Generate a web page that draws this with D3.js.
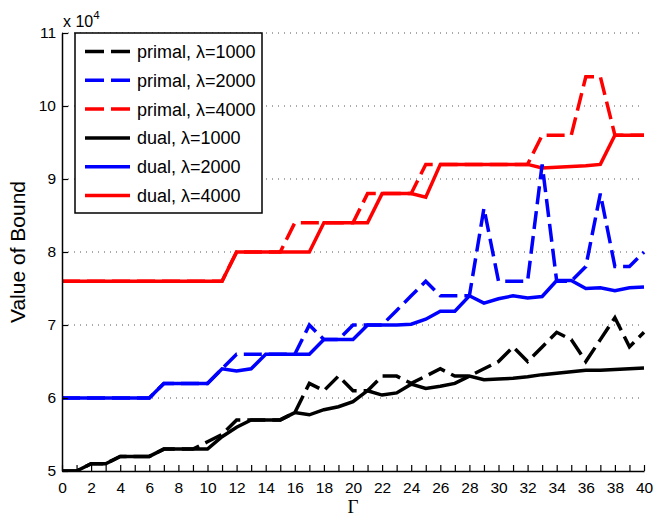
<!DOCTYPE html>
<html>
<head>
<meta charset="utf-8">
<script src="https://cdn.jsdelivr.net/npm/d3@7"></script>
<style>
body { margin: 0; background: #fff; }
svg text { font-family: "Liberation Sans", Arial, sans-serif; }
</style>
</head>
<body>
<div id="chart"></div>
<script>
// Gamma values 0..40
var gammas = d3.range(0, 41);

// values in units of 10^4
var primal1000 = [5.0,5.0,5.1,5.1,5.2,5.2,5.2,5.3,5.3,5.3,5.4,5.5,5.7,5.7,5.7,5.7,5.8,6.2,6.1,6.3,6.1,
                  6.1,6.3,6.3,6.2,6.3,6.4,6.3,6.3,6.4,6.5,6.7,6.5,6.7,6.9,6.8,6.5,6.8,7.1,6.7,6.9];
var primal2000 = [6.0,6.0,6.0,6.0,6.0,6.0,6.0,6.2,6.2,6.2,6.2,6.4,6.6,6.6,6.6,6.6,6.6,7.0,6.8,6.8,7.0,
                  7.0,7.0,7.2,7.4,7.6,7.4,7.4,7.4,8.6,7.6,7.6,7.6,9.2,7.6,7.6,7.8,8.8,7.8,7.8,8.0];
var primal4000 = [7.6,7.6,7.6,7.6,7.6,7.6,7.6,7.6,7.6,7.6,7.6,7.6,8.0,8.0,8.0,8.0,8.4,8.4,8.4,8.4,8.4,
                  8.8,8.8,8.8,8.8,9.2,9.2,9.2,9.2,9.2,9.2,9.2,9.2,9.6,9.6,9.6,10.4,10.4,9.6,9.6,9.6];
var dual1000 = [5.0,5.0,5.1,5.1,5.2,5.2,5.2,5.3,5.3,5.3,5.3,5.47,5.6,5.7,5.7,5.7,5.8,5.77,5.84,5.88,5.95,
                6.1,6.04,6.07,6.19,6.13,6.16,6.2,6.3,6.25,6.26,6.27,6.29,6.32,6.34,6.36,6.38,6.38,6.39,6.4,6.41];
var dual2000 = [6.0,6.0,6.0,6.0,6.0,6.0,6.0,6.2,6.2,6.2,6.2,6.4,6.37,6.4,6.6,6.6,6.6,6.6,6.8,6.8,6.8,
                7.0,7.0,7.0,7.01,7.08,7.19,7.19,7.4,7.3,7.36,7.4,7.37,7.39,7.61,7.61,7.5,7.51,7.47,7.51,7.52];
var dual4000 = [7.6,7.6,7.6,7.6,7.6,7.6,7.6,7.6,7.6,7.6,7.6,7.6,8.0,8.0,8.0,8.0,8.0,8.0,8.4,8.4,8.4,
                8.4,8.8,8.8,8.8,8.75,9.2,9.2,9.2,9.2,9.2,9.2,9.2,9.15,9.16,9.17,9.18,9.2,9.6,9.6,9.6];

var seriesNames = ["primal, \u03bb=1000", "primal, \u03bb=2000", "primal, \u03bb=4000",
                   "dual, \u03bb=1000", "dual, \u03bb=2000", "dual, \u03bb=4000"];
var seriesColors = ["#000000", "#0000ff", "#ff0000", "#000000", "#0000ff", "#ff0000"];
var seriesDashed = [true, true, true, false, false, false];
var seriesValues = [primal1000, primal2000, primal4000, dual1000, dual2000, dual4000];

var xTicks = d3.range(0, 41, 2);
var yTicks = [5, 6, 7, 8, 9, 10, 11];

var svg = d3.select("#chart").append("svg")
            .attr("width", 654)
            .attr("height", 516);

var x = d3.scaleLinear().domain([0, 40]).range([62, 644]);
var y = d3.scaleLinear().domain([5, 11]).range([471, 33]);

// dotted grid
svg.selectAll(".grid")
   .data(yTicks.slice(1))
   .enter()
   .append("line")
   .attr("class", "grid")
   .attr("x1", x(0))
   .attr("x2", x(40))
   .attr("y1", function(d){ return y(d); })
   .attr("y2", function(d){ return y(d); })
   .attr("stroke", "#555")
   .attr("stroke-width", 1)
   .attr("stroke-dasharray", "1,5");

svg.append("clipPath").attr("id", "clip")
   .append("rect")
   .attr("x", x(0)).attr("y", y(11) - 3)
   .attr("width", x(40) - x(0) + 3).attr("height", y(5) - y(11) + 3);

var line = d3.line()
             .x(function(d, i){ return x(gammas[i]); })
             .y(function(d){ return y(d); });

// duals below, primals on top
var order = [3, 4, 5, 0, 1, 2];
var plot = svg.append("g").attr("clip-path", "url(#clip)");
for(var k = 0; k < order.length; k++){
	var s = order[k];
	plot.append("path")
		.attr("d", line(seriesValues[s]))
		.attr("fill", "none")
		.attr("stroke", seriesColors[s])
		.attr("stroke-width", 3.5)
		.attr("stroke-linejoin", "miter")
		.attr("stroke-dasharray", seriesDashed[s] ? "18,7" : null);
}

// axes
var xAxis = d3.axisBottom(x)
              .tickValues(d3.range(0, 41))
              .tickSizeInner(-6)
              .tickSizeOuter(0)
              .tickPadding(11)
              .tickFormat(function(d){ return d % 2 === 0 ? d : ""; });

var gx = svg.append("g")
            .attr("transform", "translate(0," + y(5) + ")")
            .call(xAxis);

var yAxis = d3.axisLeft(y)
              .tickValues(yTicks)
              .tickSizeInner(-6)
              .tickSizeOuter(0)
              .tickPadding(6)
              .tickFormat(d3.format("d"));

var gy = svg.append("g")
            .attr("transform", "translate(" + x(0) + ",0)")
            .call(yAxis);

[gx, gy].forEach(function(g){
	g.select(".domain").attr("stroke", "#000").attr("stroke-width", 1.5);
	g.selectAll(".tick line").attr("stroke", "#000").attr("stroke-width", 1.2);
	g.selectAll(".tick text")
	 .attr("fill", "#000")
	 .style("font-size", "15.5px")
	 .style("font-family", "'Liberation Sans', Arial, sans-serif");
});

// exponent
var expo = svg.append("text")
              .attr("x", 63)
              .attr("y", 27)
              .style("font-size", "16px")
              .text("x 10");
expo.append("tspan")
    .attr("dy", -8)
    .style("font-size", "11.5px")
    .text("4");

// axis labels
svg.append("text")
   .attr("transform", "translate(25,252) rotate(-90)")
   .attr("text-anchor", "middle")
   .style("font-size", "21px")
   .text("Value of Bound");

svg.append("text")
   .attr("x", (x(0) + x(40)) / 2)
   .attr("y", 513)
   .attr("text-anchor", "middle")
   .style("font-family", "'Liberation Serif', 'Times New Roman', serif")
   .style("font-size", "19px")
   .text("\u0393");

// legend
var legend = svg.append("g");
legend.append("rect")
      .attr("x", 75)
      .attr("y", 33)
      .attr("width", 187)
      .attr("height", 180)
      .attr("fill", "#fff")
      .attr("stroke", "#000")
      .attr("stroke-width", 1.5);

for(var j = 0; j < seriesNames.length; j++){
	var ly = 51.5 + j * 28.8;
	legend.append("line")
		  .attr("x1", 85)
		  .attr("x2", 130)
		  .attr("y1", ly)
		  .attr("y2", ly)
		  .attr("stroke", seriesColors[j])
		  .attr("stroke-width", 3.5)
		  .attr("stroke-dasharray", seriesDashed[j] ? "19,7" : null);
	legend.append("text")
		  .attr("x", 137)
		  .attr("y", ly + 6.5)
		  .style("font-size", "18px")
		  .text(seriesNames[j]);
}
</script>
</body>
</html>
